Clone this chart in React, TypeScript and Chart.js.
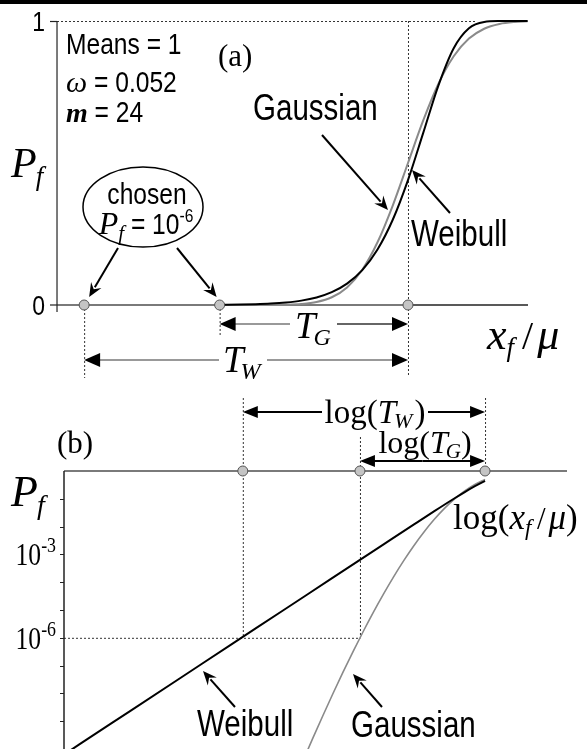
import React, { useEffect, useRef } from "react";
import { Chart, registerables } from "chart.js";
Chart.register(...registerables);

const SANS = '"Liberation Sans", Arial, sans-serif';
const SERIF = '"Liberation Serif", "Times New Roman", serif';
const NARROW = 0.82; // emulate a narrow sans face

// ---------- Panel (a): P_f vs x_f/mu (linear) ----------
const topX = [0.7528, 0.78, 0.8, 0.82, 0.84, 0.86, 0.88, 0.9, 0.92, 0.94, 0.96, 0.98, 1.0, 1.02, 1.04, 1.06, 1.08, 1.1, 1.12, 1.14, 1.157];
const topWeibull = [0.0006, 0.0015, 0.0027, 0.0049, 0.0088, 0.0154, 0.0266, 0.0452, 0.0753, 0.123, 0.1955, 0.3001, 0.4398, 0.6062, 0.7736, 0.9042, 0.9746, 0.9967, 0.9998, 1.0, 1.0];
const topGaussian = [0.000001, 0.0000116, 0.00006, 0.00027, 0.00105, 0.00355, 0.0105, 0.0272, 0.062, 0.1243, 0.2209, 0.3502, 0.5, 0.6498, 0.7791, 0.8757, 0.938, 0.9728, 0.9895, 0.99645, 0.99874];
const topMarkersX = [0.575, 0.7528, 1.0];
const topXRange = [0.5302, 1.1575];
const topYAxisAt = 0.5394;
const topDottedEnd = 1.09;

// ---------- Panel (b): log P_f vs log(x_f/mu) ----------
const botWeibullX = [0.3802, 0.3981, 0.4467, 0.5012, 0.5623, 0.631, 0.7079, 0.7943, 0.8511, 0.8913, 0.9333, 0.955, 0.9772, 1.0];
const botWeibullP = [4.8e-11, 1.46e-10, 2.31e-9, 3.66e-8, 5.8e-7, 9.19e-6, 1.456e-4, 2.3e-3, 0.012, 0.0359, 0.1045, 0.1746, 0.2835, 0.4398];
const botGaussX = [0.6607, 0.6761, 0.6918, 0.7079, 0.7244, 0.7413, 0.7586, 0.7762, 0.7943, 0.8128, 0.8318, 0.8511, 0.871, 0.8913, 0.912, 0.9333, 0.955, 0.9772, 1.0];
const botGaussP = [3.4e-11, 2.35e-10, 1.54e-9, 9.7e-9, 5.8e-8, 3.26e-7, 1.72e-6, 8.4e-6, 3.81e-5, 1.59e-4, 6.08e-4, 2.1e-3, 6.55e-3, 0.01827, 0.0453, 0.0998, 0.1933, 0.3307, 0.5];
const botMarkersX = [0.577, 0.7528, 1.0];
const botXRange = [0.3845, 1.2045];
const botYRange = [1e-10, 1];
const botDecadeTicks = [1e-1, 1e-2, 1e-3, 1e-4, 1e-5, 1e-6, 1e-7, 1e-8, 1e-9];
const botTickLabels = [
  { v: 1e-3, exp: "-3" },
  { v: 1e-6, exp: "-6" },
];
const chosenPf = 1e-6;

type Part = { t: string; f: string; dy?: number; dx?: number; sx?: number };

function rich(ctx: CanvasRenderingContext2D, x: number, y: number, parts: Part[], align = "left") {
  let w = 0;
  parts.forEach((p) => {
    ctx.font = p.f;
    w += ctx.measureText(p.t).width * (p.sx || 1) + (p.dx || 0);
  });
  let cx = align === "center" ? x - w / 2 : align === "right" ? x - w : x;
  ctx.textAlign = "left";
  ctx.textBaseline = "alphabetic";
  parts.forEach((p) => {
    ctx.font = p.f;
    cx += p.dx || 0;
    const sx = p.sx || 1;
    ctx.save();
    ctx.translate(cx, y + (p.dy || 0));
    ctx.scale(sx, 1);
    ctx.fillText(p.t, 0, 0);
    ctx.restore();
    cx += ctx.measureText(p.t).width * sx;
  });
}

function sans(t: string, size: number, extra: Partial<Part> = {}): Part {
  return { t, f: `${size}px ${SANS}`, sx: NARROW, ...extra };
}

function seg(ctx: CanvasRenderingContext2D, x1: number, y1: number, x2: number, y2: number) {
  ctx.beginPath();
  ctx.moveTo(x1, y1);
  ctx.lineTo(x2, y2);
  ctx.stroke();
}

function head(ctx: CanvasRenderingContext2D, x1: number, y1: number, x2: number, y2: number, len: number, half: number, notch: number) {
  const a = Math.atan2(y2 - y1, x2 - x1);
  const c = Math.cos(a), s = Math.sin(a);
  ctx.beginPath();
  ctx.moveTo(x2, y2);
  ctx.lineTo(x2 - len * c + half * s, y2 - len * s - half * c);
  ctx.lineTo(x2 - len * notch * c, y2 - len * notch * s);
  ctx.lineTo(x2 - len * c - half * s, y2 - len * s + half * c);
  ctx.closePath();
  ctx.fill();
}

function arrow(ctx: CanvasRenderingContext2D, x1: number, y1: number, x2: number, y2: number, lw: number, color: string, len: number, half: number, notch: number, headColor = "#000") {
  const a = Math.atan2(y2 - y1, x2 - x1);
  ctx.strokeStyle = color;
  ctx.lineWidth = lw;
  seg(ctx, x1, y1, x2 - len * 0.8 * Math.cos(a), y2 - len * 0.8 * Math.sin(a));
  ctx.fillStyle = headColor;
  head(ctx, x1, y1, x2, y2, len, half, notch);
}

const topPlugin = {
  id: "topDecor",
  beforeDatasetsDraw(chart: any) {
    const ctx = chart.ctx as CanvasRenderingContext2D;
    const X = (v: number) => chart.scales.x.getPixelForValue(v);
    const Y = (v: number) => chart.scales.y.getPixelForValue(v);
    const a = chart.chartArea;
    ctx.save();
    ctx.strokeStyle = "#333";
    ctx.lineWidth = 1;
    ctx.setLineDash([2, 2]);
    seg(ctx, X(topYAxisAt), Y(1) + 0.5, X(topDottedEnd), Y(1) + 0.5);
    seg(ctx, X(1) + 0.5, Y(1), X(1) + 0.5, Y(0) + 72);
    seg(ctx, X(topMarkersX[0]) + 0.5, Y(0), X(topMarkersX[0]) + 0.5, Y(0) + 73);
    seg(ctx, X(topMarkersX[1]) + 0.5, Y(0), X(topMarkersX[1]) + 0.5, Y(0) + 32);
    ctx.setLineDash([]);
    ctx.strokeStyle = "#7a7a7a";
    ctx.lineWidth = 2;
    seg(ctx, a.left, Y(0), X(1), Y(0));
    ctx.strokeStyle = "#222";
    ctx.lineWidth = 1.6;
    seg(ctx, X(1), Y(0), a.right, Y(0));
    ctx.strokeStyle = "#222";
    ctx.lineWidth = 1.2;
    seg(ctx, X(topYAxisAt), Y(1), X(topYAxisAt), Y(0) + 7);
    seg(ctx, X(topYAxisAt) - 7, Y(1) + 0.5, X(topYAxisAt), Y(1) + 0.5);
    ctx.restore();
  },
  afterDatasetsDraw(chart: any) {
    const ctx = chart.ctx as CanvasRenderingContext2D;
    const X = (v: number) => chart.scales.x.getPixelForValue(v);
    const Y = (v: number) => chart.scales.y.getPixelForValue(v);
    ctx.save();
    ctx.fillStyle = "#000";
    // y tick labels
    rich(ctx, 45, Y(1) + 10, [sans("1", 28)], "right");
    rich(ctx, 45, Y(0) + 10, [sans("0", 28)], "right");
    // P_f label
    rich(ctx, 11, 177, [
      { t: "P", f: `italic 42px ${SERIF}` },
      { t: "f", f: `italic 27px ${SERIF}`, dy: 8, dx: -1 },
    ]);
    // parameters
    rich(ctx, 66, 54, [sans("Means = 1", 30)]);
    rich(ctx, 66, 92, [
      { t: "ω", f: `italic 30px ${SERIF}` },
      sans(" = 0.052", 30),
    ]);
    rich(ctx, 66, 122, [
      { t: "m", f: `italic bold 28px ${SERIF}` },
      sans(" = 24", 30),
    ]);
    rich(ctx, 218, 66, [{ t: "(a)", f: `31px ${SERIF}` }]);
    // ellipse
    ctx.strokeStyle = "#000";
    ctx.lineWidth = 1.5;
    ctx.beginPath();
    ctx.ellipse(143, 207, 60, 40, 0, 0, Math.PI * 2);
    ctx.stroke();
    rich(ctx, 147, 204, [sans("chosen", 30)], "center");
    rich(ctx, 146, 234, [
      { t: "P", f: `italic 32px ${SERIF}` },
      { t: "f", f: `italic 21px ${SERIF}`, dy: 6 },
      sans(" = 10", 30),
      sans("-6", 19, { dy: -12 }),
    ], "center");
    arrow(ctx, 118, 248, X(topMarkersX[0]) + 5, Y(0) - 8, 2, "#000", 14, 6, 0.65);
    arrow(ctx, 177, 248, X(topMarkersX[1]) - 3, Y(0) - 8, 2, "#000", 14, 6, 0.65);
    // Gaussian / Weibull labels
    rich(ctx, 253, 120, [sans("Gaussian", 36)]);
    arrow(ctx, 322, 135, 388, 210, 2, "#000", 14, 6, 0.65);
    rich(ctx, 411, 246, [sans("Weibull", 36)]);
    arrow(ctx, 450, 213, 412, 170, 2, "#000", 14, 6, 0.65);
    // T_G
    const yG = Y(0) + 19;
    const xG0 = X(topMarkersX[1]);
    const x1 = X(1);
    arrow(ctx, 290, yG, xG0, yG, 1.5, "#777", 16, 7, 1);
    arrow(ctx, 337, yG, x1, yG, 1.5, "#333", 16, 7, 1);
    rich(ctx, 295, yG + 14, [
      { t: "T", f: `italic 37px ${SERIF}` },
      { t: "G", f: `italic 24px ${SERIF}`, dy: 7, dx: -2 },
    ]);
    // T_W
    const yW = Y(0) + 55;
    const xW0 = X(topMarkersX[0]);
    arrow(ctx, 219, yW, xW0, yW, 1.5, "#777", 16, 7, 1);
    arrow(ctx, 267, yW, x1, yW, 1.5, "#777", 16, 7, 1);
    rich(ctx, 223, yW + 12, [
      { t: "T", f: `italic 37px ${SERIF}` },
      { t: "W", f: `italic 24px ${SERIF}`, dy: 7, dx: -3 },
    ]);
    // x label
    rich(ctx, 487, 349, [
      { t: "x", f: `italic 44px ${SERIF}` },
      { t: "f", f: `italic 27px ${SERIF}`, dy: 7 },
      { t: " / ", f: `40px ${SERIF}`, dx: -2 },
      { t: "μ", f: `italic 44px ${SERIF}`, dx: -6 },
    ]);
    ctx.restore();
  },
};

const botPlugin = {
  id: "botDecor",
  beforeDatasetsDraw(chart: any) {
    const ctx = chart.ctx as CanvasRenderingContext2D;
    const X = (v: number) => chart.scales.x.getPixelForValue(v);
    const Y = (v: number) => chart.scales.y.getPixelForValue(v);
    const a = chart.chartArea;
    ctx.save();
    ctx.strokeStyle = "#333";
    ctx.lineWidth = 1;
    ctx.setLineDash([2, 2]);
    const xw = X(botMarkersX[0]) + 0.5, xg = X(botMarkersX[1]) + 0.5, x1 = X(1) + 0.5;
    seg(ctx, xw, Y(1) - 73, xw, Y(chosenPf));
    seg(ctx, xg, Y(1) - 34, xg, Y(chosenPf));
    seg(ctx, x1, Y(1) - 73, x1, Y(1));
    seg(ctx, a.left, Y(chosenPf) + 0.5, xg, Y(chosenPf) + 0.5);
    ctx.setLineDash([]);
    ctx.strokeStyle = "#7a7a7a";
    ctx.lineWidth = 2;
    seg(ctx, a.left, Y(1), a.right, Y(1));
    ctx.strokeStyle = "#222";
    ctx.lineWidth = 1.5;
    seg(ctx, a.left, Y(1), a.left, a.bottom);
    ctx.lineWidth = 1;
    botDecadeTicks.forEach((v) => seg(ctx, a.left - 4, Math.round(Y(v)) + 0.5, a.left, Math.round(Y(v)) + 0.5));
    ctx.restore();
  },
  afterDatasetsDraw(chart: any) {
    const ctx = chart.ctx as CanvasRenderingContext2D;
    const X = (v: number) => chart.scales.x.getPixelForValue(v);
    const Y = (v: number) => chart.scales.y.getPixelForValue(v);
    ctx.save();
    ctx.fillStyle = "#000";
    rich(ctx, 57, 63, [{ t: "(b)", f: `31px ${SERIF}` }]);
    rich(ctx, 11, 116, [
      { t: "P", f: `italic 44px ${SERIF}` },
      { t: "f", f: `italic 28px ${SERIF}`, dy: 8, dx: -1 },
    ]);
    botTickLabels.forEach((l) => {
      rich(ctx, 56, Y(l.v) + 11, [
        { t: "10", f: `32px ${SERIF}`, sx: 0.8 },
        { t: l.exp, f: `21px ${SERIF}`, dy: -13, sx: 0.85 },
      ], "right");
    });
    const xw = X(botMarkersX[0]), xg = X(botMarkersX[1]), x1 = X(1);
    // log(T_W)
    const yTW = Y(1) - 59;
    arrow(ctx, 322, yTW, xw, yTW, 2, "#000", 15, 6, 1);
    arrow(ctx, 428, yTW, x1, yTW, 2, "#000", 15, 6, 1);
    rich(ctx, 375, yTW + 11, [
      { t: "log(", f: `33px ${SERIF}` },
      { t: "T", f: `italic 33px ${SERIF}` },
      { t: "W", f: `italic 22px ${SERIF}`, dy: 5, dx: -2 },
      { t: ")", f: `33px ${SERIF}`, dx: 2 },
    ], "center");
    // log(T_G)
    const yTG = Y(1) - 10;
    const mid = (xg + x1) / 2;
    arrow(ctx, mid, yTG, xg, yTG, 2, "#000", 15, 6, 1);
    arrow(ctx, mid, yTG, x1, yTG, 2, "#000", 15, 6, 1);
    rich(ctx, 425, yTG - 8, [
      { t: "log(", f: `32px ${SERIF}` },
      { t: "T", f: `italic 32px ${SERIF}` },
      { t: "G", f: `italic 21px ${SERIF}`, dy: 5, dx: -2 },
      { t: ")", f: `32px ${SERIF}` },
    ], "center");
    // x label
    rich(ctx, 453, Y(1) + 58, [
      { t: "log(", f: `35px ${SERIF}` },
      { t: "x", f: `italic 35px ${SERIF}` },
      { t: "f", f: `italic 23px ${SERIF}`, dy: 6 },
      { t: " / ", f: `31px ${SERIF}`, dx: -2 },
      { t: "μ", f: `italic 35px ${SERIF}`, dx: -5 },
      { t: ")", f: `35px ${SERIF}` },
    ]);
    // series labels
    rich(ctx, 197, 346, [sans("Weibull", 36)]);
    arrow(ctx, 235, 317, 203, 281, 2, "#000", 14, 6, 0.65);
    rich(ctx, 351, 347, [sans("Gaussian", 36)]);
    arrow(ctx, 382, 317, 353, 284, 2, "#000", 14, 6, 0.65);
    ctx.restore();
  },
};

const markerStyle = {
  showLine: false,
  pointRadius: 5,
  pointBackgroundColor: "#c4c4c4",
  pointBorderColor: "#555",
  pointBorderWidth: 1,
  clip: false as any,
};

export default function App() {
  const topRef = useRef<HTMLCanvasElement>(null);
  const botRef = useRef<HTMLCanvasElement>(null);

  useEffect(() => {
    const top = new Chart(topRef.current!, {
      type: "line",
      data: {
        datasets: [
          { label: "markers", data: topMarkersX.map((x) => ({ x, y: 0 })), ...markerStyle },
          {
            label: "Weibull",
            data: topX.map((x, i) => ({ x, y: topWeibull[i] })),
            borderColor: "#000",
            borderWidth: 2,
            pointRadius: 0,
            cubicInterpolationMode: "monotone",
            clip: false as any,
          },
          {
            label: "Gaussian",
            data: topX.map((x, i) => ({ x, y: topGaussian[i] })),
            borderColor: "#8a8a8a",
            borderWidth: 2,
            pointRadius: 0,
            cubicInterpolationMode: "monotone",
            clip: false as any,
          },
        ],
      },
      options: {
        animation: false,
        responsive: false,
        events: [],
        layout: { padding: { left: 50, right: 59, top: 21, bottom: 90 } },
        plugins: { legend: { display: false }, tooltip: { enabled: false } },
        scales: {
          x: { type: "linear", min: topXRange[0], max: topXRange[1], display: false },
          y: { type: "linear", min: 0, max: 1, display: false },
        },
      },
      plugins: [topPlugin],
    });
    const bot = new Chart(botRef.current!, {
      type: "line",
      data: {
        datasets: [
          { label: "markers", data: botMarkersX.map((x) => ({ x, y: 1 })), ...markerStyle },
          {
            label: "Weibull",
            data: botWeibullX.map((x, i) => ({ x, y: botWeibullP[i] })),
            borderColor: "#000",
            borderWidth: 2,
            pointRadius: 0,
            cubicInterpolationMode: "monotone",
          },
          {
            label: "Gaussian",
            data: botGaussX.map((x, i) => ({ x, y: botGaussP[i] })),
            borderColor: "#8a8a8a",
            borderWidth: 1.6,
            pointRadius: 0,
            cubicInterpolationMode: "monotone",
          },
        ],
      },
      options: {
        animation: false,
        responsive: false,
        events: [],
        layout: { padding: { left: 64, right: 20, top: 81, bottom: 0 } },
        plugins: { legend: { display: false }, tooltip: { enabled: false } },
        scales: {
          x: { type: "logarithmic", min: botXRange[0], max: botXRange[1], display: false },
          y: { type: "logarithmic", min: botYRange[0], max: botYRange[1], display: false },
        },
      },
      plugins: [botPlugin],
    });
    return () => {
      top.destroy();
      bot.destroy();
    };
  }, []);

  return (
    <div style={{ position: "absolute", left: 0, top: 0, width: 587, height: 755, background: "#fff", overflow: "hidden" }}>
      <div style={{ position: "absolute", left: 0, top: 0, width: 587, height: 4, background: "#000" }} />
      <canvas ref={topRef} width={587} height={395} style={{ position: "absolute", left: 0, top: 0, width: 587, height: 395 }} />
      <canvas ref={botRef} width={587} height={365} style={{ position: "absolute", left: 0, top: 390, width: 587, height: 365 }} />
    </div>
  );
}
